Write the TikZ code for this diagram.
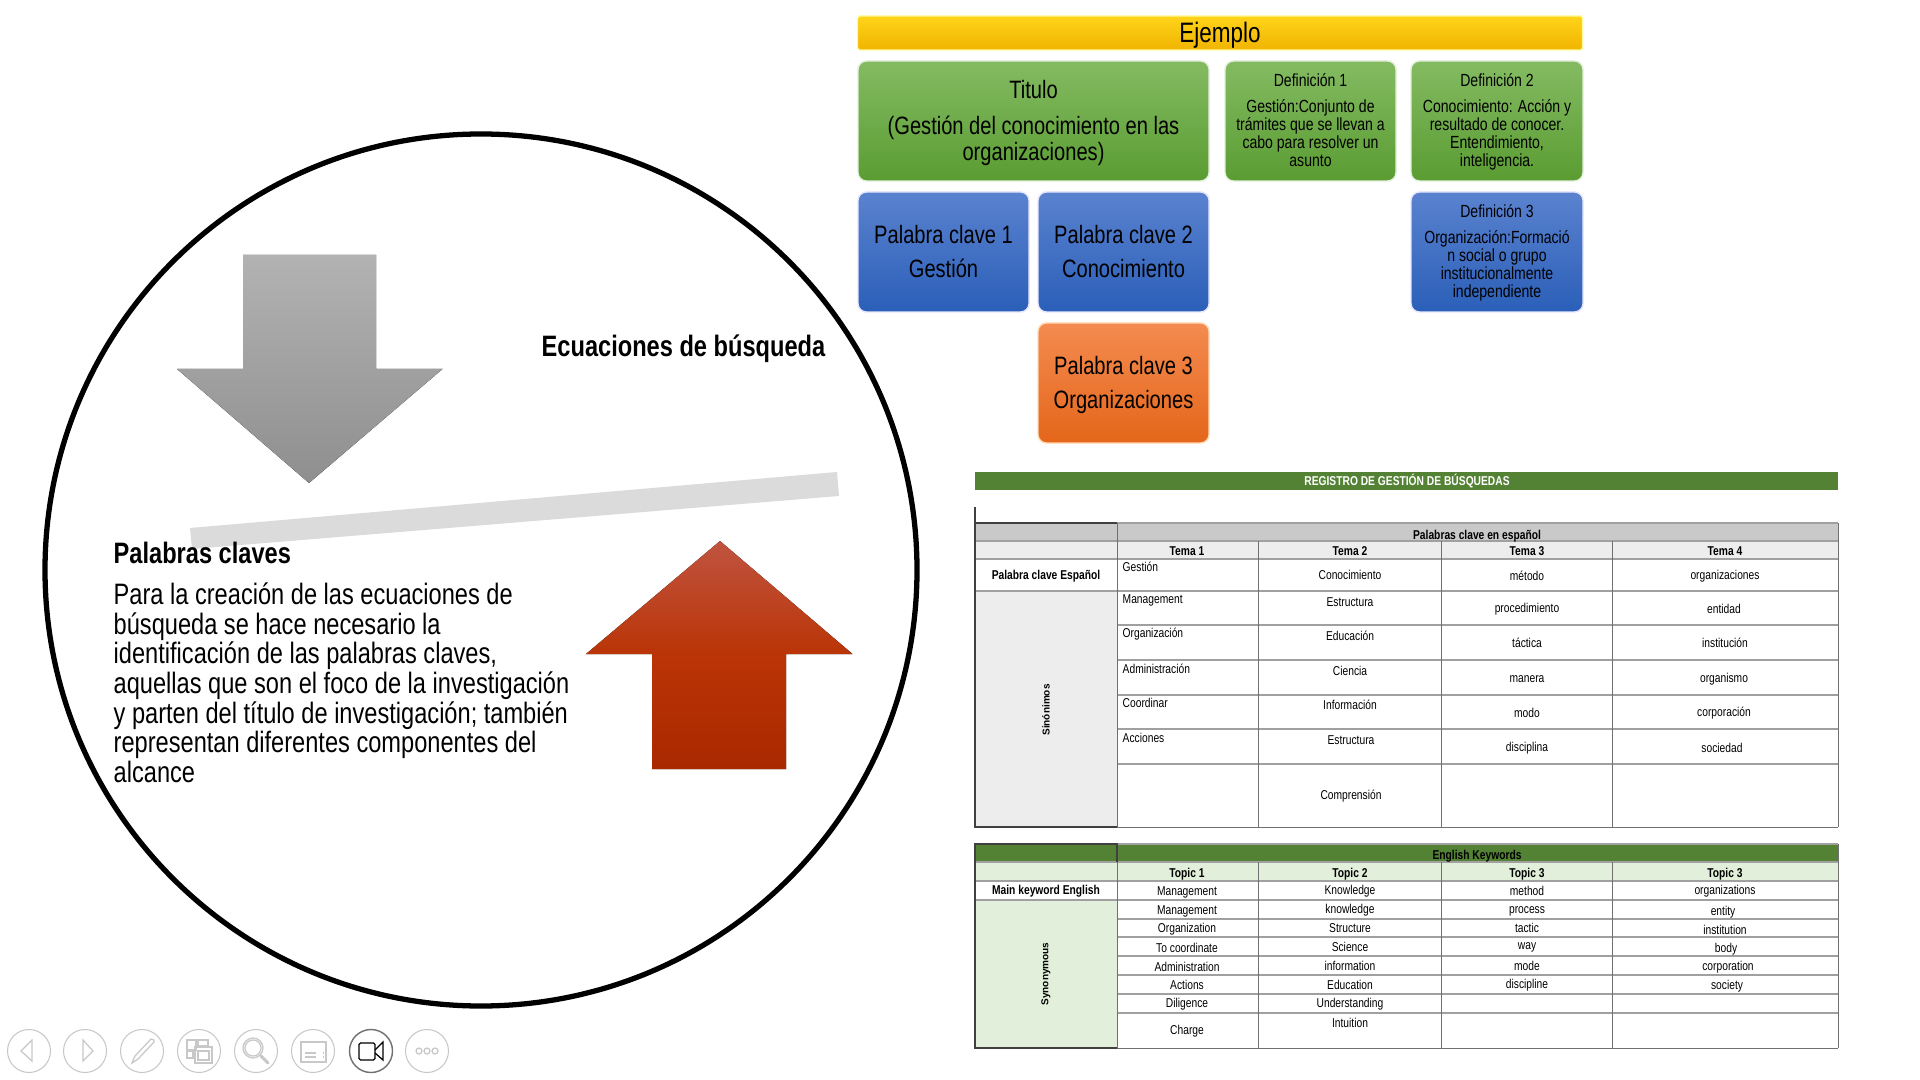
\documentclass[tikz,border=0pt]{standalone}
\usepackage{fontspec}
\setmainfont{Liberation Sans}[FakeStretch=0.80]
\newfontfamily\widebold{Liberation Sans}[BoldFont={Liberation Sans Bold}]
\definecolor{ringgray}{HTML}{C8C8C8}
\definecolor{linegray}{HTML}{A0A0A0}
\definecolor{edgegray}{HTML}{707070}
\definecolor{darkedge}{HTML}{404040}
\definecolor{headgray}{HTML}{C9C9C9}
\definecolor{softgray}{HTML}{EDEDED}
\definecolor{leafgreen}{HTML}{548235}
\definecolor{softgreen}{HTML}{E2EFDA}
\definecolor{gelgreentop}{HTML}{84BB62}
\definecolor{gelgreenbot}{HTML}{5A9C32}
\definecolor{gelbluetop}{HTML}{5A82CF}
\definecolor{gelbluebot}{HTML}{2B5FB8}
\definecolor{gelorangetop}{HTML}{F48B50}
\definecolor{gelorangebot}{HTML}{E4661A}
\definecolor{gelyellowtop}{HTML}{FFD41A}
\definecolor{gelyellowbot}{HTML}{F0B400}
\definecolor{rusttop}{HTML}{C05440}
\definecolor{rustmid}{HTML}{BA3406}
\definecolor{rustbot}{HTML}{AA2800}
\newcommand{\bigstrut}{\rule{0pt}{6.3pt}}
\newcommand{\defstrut}{\rule{0pt}{4.2pt}}
\tikzset{
    glossbox/.style={rounded corners=2.4pt,align=center,inner sep=0pt,text=black,line width=.4pt,font=\fontsize{7.15}{7.4}\selectfont},
    greenbox/.style={glossbox,draw=softgreen,top color=gelgreentop,bottom color=gelgreenbot},
    bluebox/.style={glossbox,draw=blue!10,top color=gelbluetop,bottom color=gelbluebot},
    orangebox/.style={glossbox,draw=orange!30,top color=gelorangetop,bottom color=gelorangebot},
    deftext/.style={font=\fontsize{5}{5.1}\selectfont},
    celltext/.style={inner sep=0pt,font=\fontsize{3.65}{4}\selectfont},
    cellleft/.style={celltext,anchor=west},
    cellbold/.style={celltext,font=\fontsize{3.65}{4}\selectfont\bfseries},
    rotbold/.style={celltext,font=\fontsize{2.85}{3}\widebold\bfseries,rotate=90},
    bodytext/.style={inner sep=0pt,align=left,font=\fontsize{8.4}{8.45}\selectfont},
    gridline/.style={draw=linegray,line width=.4pt},
    colline/.style={draw=edgegray,line width=.25pt},
    ring/.style={draw=ringgray,line width=.3pt},
    icon/.style={draw=ringgray,line width=.35pt}
}
\begin{document}
\begin{tikzpicture}[y=-1cm]
    \useasboundingbox[fill=white] (0,0) rectangle (19.2,10.8);
    \draw[line width=1.5pt] (4.81,5.70) circle (4.36);
    \fill[top color=black!30,bottom color=black!44] (2.43,2.55) -- (3.76,2.55) -- (3.76,3.69) -- (4.425,3.69) -- (3.09,4.83) -- (1.77,3.69) -- (2.43,3.69) -- cycle;
    \fill[top color=rusttop,bottom color=rustbot,middle color=rustmid] (7.20,5.41) -- (8.525,6.54) -- (7.86,6.54) -- (7.86,7.69) -- (6.52,7.69) -- (6.52,6.54) -- (5.86,6.54) -- cycle;
    \fill[black!14] (1.90,5.28) -- (8.37,4.72) -- (8.39,4.96) -- (1.92,5.49) -- cycle;
    \node[bodytext,anchor=west,font=\fontsize{8.4}{8.45}\selectfont\bfseries] (ecuaciones) at (5.41,3.49) {Ecuaciones de búsqueda};
    \node[bodytext,anchor=west,font=\fontsize{8.4}{8.45}\selectfont\bfseries] (palabras) at (1.13,5.53) {Palabras claves};
    \node[bodytext,anchor=north west] (cuerpo) at (1.13,5.82) {Para la creación de las ecuaciones de\\búsqueda se hace necesario la\\identificación de las palabras claves,\\aquellas que son el foco de la investigación\\y parten del título de investigación; también\\representan diferentes componentes del\\alcance};

    \node[glossbox,rounded corners=.5pt,draw=yellow!40,top color=gelyellowtop,bottom color=gelyellowbot,minimum width=7.25cm,minimum height=.34cm,font=\fontsize{8}{8}\selectfont] (ejemplo) at (12.20,.33) {\rule{0pt}{6.9pt}Ejemplo};
    \node[greenbox,minimum width=3.51cm,minimum height=1.2cm] (titulo) at (10.335,1.21) {\bigstrut Titulo\\[2.6pt](Gestión del conocimiento en las\\organizaciones)};
    \node[greenbox,deftext,minimum width=1.71cm,minimum height=1.2cm] (def1) at (13.105,1.21) {\defstrut Definición 1\\[2.3pt]Gestión:Conjunto de\\trámites que se llevan a\\cabo para resolver un\\asunto\vphantom{g}};
    \node[greenbox,deftext,minimum width=1.72cm,minimum height=1.2cm] (def2) at (14.97,1.21) {\defstrut Definición 2\\[2.3pt]Conocimiento: Acción y\\resultado de conocer.\\Entendimiento,\\inteligencia.};
    \node[bluebox,minimum width=1.71cm,minimum height=1.2cm] (clave1) at (9.435,2.52) {\bigstrut Palabra clave 1\\[2.5pt]Gestión\vphantom{g}};
    \node[bluebox,minimum width=1.71cm,minimum height=1.2cm] (clave2) at (11.235,2.52) {\bigstrut Palabra clave 2\\[2.5pt]Conocimiento\vphantom{g}};
    \node[bluebox,deftext,minimum width=1.72cm,minimum height=1.2cm] (def3) at (14.97,2.52) {\defstrut Definición 3\\[2.3pt]Organización:Formació\\n social o grupo\\institucionalmente\\independiente\vphantom{g}};
    \node[orangebox,minimum width=1.71cm,minimum height=1.2cm] (clave3) at (11.235,3.83) {\bigstrut Palabra clave 3\\[2.5pt]Organizaciones};

    \fill[leafgreen] (9.75,4.72) rectangle (18.38,4.90);
    \node[cellbold,text=white] (registro) at (14.07,4.81) {REGISTRO DE GESTIÓN DE BÚSQUEDAS};
    \draw[darkedge,line width=.3pt] (9.75,5.07) -- (9.75,5.23);

    \fill[headgray] (9.75,5.23) rectangle (18.38,5.41);
    \fill[softgray] (9.75,5.41) rectangle (18.38,5.59);
    \fill[softgray] (9.75,5.91) rectangle (11.17,8.27);
    \draw[gridline] (9.75,5.23) -- (18.38,5.23) (9.75,5.41) -- (18.38,5.41) (9.75,5.59) -- (18.38,5.59) (9.75,5.91) -- (18.38,5.91) (11.17,6.25) -- (18.38,6.25) (11.17,6.60) -- (18.38,6.60) (11.17,6.95) -- (18.38,6.95) (11.17,7.29) -- (18.38,7.29) (11.17,7.64) -- (18.38,7.64);
    \draw[colline] (11.17,5.23) -- (11.17,8.27) (12.58,5.41) -- (12.58,8.27) (14.41,5.41) -- (14.41,8.27) (16.12,5.41) -- (16.12,8.27) (18.38,5.23) -- (18.38,8.27) (11.17,8.27) -- (18.38,8.27);
    \draw[darkedge,line width=.45pt] (11.17,5.23) -- (9.75,5.23) -- (9.75,8.27) -- (11.17,8.27);

    \node[cellbold] (esptitulo) at (14.77,5.36) {Palabras clave en español};
    \node[cellbold] (tema1) at (11.87,5.51) {Tema 1};
    \node[cellbold] (tema2) at (13.50,5.51) {Tema 2};
    \node[cellbold] (tema3) at (15.27,5.51) {Tema 3};
    \node[cellbold] (tema4) at (17.25,5.51) {Tema 4};
    \node[cellbold] (clavees) at (10.46,5.76) {Palabra clave Español};
    \node[rotbold] (sinonimos) at (10.46,7.10) {Sinónimos};
    \node[cellleft] (es11) at (11.22,5.67) {Gestión};
    \node[cellleft] (es12) at (11.22,6.00) {Management};
    \node[cellleft] (es13) at (11.22,6.34) {Organización};
    \node[cellleft] (es14) at (11.22,6.69) {Administración};
    \node[cellleft] (es15) at (11.22,7.03) {Coordinar};
    \node[cellleft] (es16) at (11.22,7.38) {Acciones};
    \node[celltext] (es21) at (13.50,5.75) {Conocimiento};
    \node[celltext] (es22) at (13.50,6.02) {Estructura};
    \node[celltext] (es23) at (13.50,6.36) {Educación};
    \node[celltext] (es24) at (13.50,6.71) {Ciencia};
    \node[celltext] (es25) at (13.50,7.05) {Información};
    \node[celltext] (es26) at (13.51,7.40) {Estructura};
    \node[celltext] (es27) at (13.51,7.96) {Comprensión};
    \node[celltext] (es31) at (15.27,5.76) {método};
    \node[celltext] (es32) at (15.27,6.09) {procedimiento};
    \node[celltext] (es33) at (15.27,6.43) {táctica};
    \node[celltext] (es34) at (15.27,6.79) {manera};
    \node[celltext] (es35) at (15.27,7.13) {modo};
    \node[celltext] (es36) at (15.27,7.48) {disciplina};
    \node[celltext] (es41) at (17.25,5.76) {organizaciones};
    \node[celltext] (es42) at (17.24,6.09) {entidad};
    \node[celltext] (es43) at (17.25,6.43) {institución};
    \node[celltext] (es44) at (17.24,6.79) {organismo};
    \node[celltext] (es45) at (17.24,7.13) {corporación};
    \node[celltext] (es46) at (17.22,7.48) {sociedad};

    \fill[leafgreen] (9.75,8.44) rectangle (18.38,8.62);
    \fill[softgreen] (9.75,8.62) rectangle (18.38,8.81);
    \fill[softgreen] (9.75,9.00) rectangle (11.17,10.48);
    \draw[gridline] (9.75,8.44) -- (18.38,8.44) (9.75,8.62) -- (18.38,8.62) (9.75,8.81) -- (18.38,8.81) (9.75,9.00) -- (18.38,9.00) (11.17,9.19) -- (18.38,9.19) (11.17,9.37) -- (18.38,9.37) (11.17,9.56) -- (18.38,9.56) (11.17,9.75) -- (18.38,9.75) (11.17,9.94) -- (18.38,9.94) (11.17,10.13) -- (18.38,10.13);
    \draw[colline] (11.17,8.44) -- (11.17,10.48) (12.58,8.62) -- (12.58,10.48) (14.41,8.62) -- (14.41,10.48) (16.12,8.62) -- (16.12,10.48) (18.38,8.44) -- (18.38,10.48) (11.17,10.48) -- (18.38,10.48);
    \draw[darkedge,line width=.45pt] (11.17,8.62) -- (11.17,8.44) -- (9.75,8.44) -- (9.75,10.48) -- (11.17,10.48);

    \node[cellbold] (engtitulo) at (14.77,8.56) {English Keywords};
    \node[cellbold] (topic1) at (11.87,8.74) {Topic 1};
    \node[cellbold] (topic2) at (13.50,8.74) {Topic 2};
    \node[cellbold] (topic3) at (15.27,8.74) {Topic 3};
    \node[cellbold] (topic4) at (17.25,8.74) {Topic 3};
    \node[cellbold] (claveen) at (10.46,8.91) {Main keyword English};
    \node[rotbold] (synonymous) at (10.46,9.74) {Synonymous};
    \node[celltext] (en11) at (11.87,8.92) {Management};
    \node[celltext] (en12) at (11.87,9.11) {Management};
    \node[celltext] (en13) at (11.87,9.29) {Organization};
    \node[celltext] (en14) at (11.87,9.48) {To coordinate};
    \node[celltext] (en15) at (11.87,9.67) {Administration};
    \node[celltext] (en16) at (11.87,9.85) {Actions};
    \node[celltext] (en17) at (11.87,10.04) {Diligence};
    \node[celltext] (en18) at (11.87,10.31) {Charge};
    \node[celltext] (en21) at (13.50,8.91) {Knowledge};
    \node[celltext] (en22) at (13.50,9.10) {knowledge};
    \node[celltext] (en23) at (13.50,9.28) {Structure};
    \node[celltext] (en24) at (13.50,9.47) {Science};
    \node[celltext] (en25) at (13.50,9.66) {information};
    \node[celltext] (en26) at (13.50,9.85) {Education};
    \node[celltext] (en27) at (13.50,10.04) {Understanding};
    \node[celltext] (en28) at (13.50,10.23) {Intuition};
    \node[celltext] (en31) at (15.27,8.91) {method};
    \node[celltext] (en32) at (15.27,9.11) {process};
    \node[celltext] (en33) at (15.27,9.28) {tactic};
    \node[celltext] (en34) at (15.27,9.47) {way};
    \node[celltext] (en35) at (15.27,9.66) {mode};
    \node[celltext] (en36) at (15.27,9.85) {discipline};
    \node[celltext] (en41) at (17.25,8.91) {organizations};
    \node[celltext] (en42) at (17.23,9.12) {entity};
    \node[celltext] (en43) at (17.25,9.30) {institution};
    \node[celltext] (en44) at (17.26,9.49) {body};
    \node[celltext] (en45) at (17.28,9.67) {corporation};
    \node[celltext] (en46) at (17.27,9.86) {society};

    \draw[ring] (.29,10.51) circle (.215);
    \draw[ring] (.85,10.51) circle (.215);
    \draw[ring] (1.42,10.51) circle (.215);
    \draw[ring] (1.99,10.51) circle (.215);
    \draw[ring] (2.56,10.51) circle (.215);
    \draw[ring] (3.13,10.51) circle (.215);
    \draw[edgegray,line width=.4pt] (3.71,10.51) circle (.215);
    \draw[ring] (4.27,10.51) circle (.215);
    \draw[icon] (.21,10.51) -- (.32,10.40) -- (.32,10.61) -- cycle;
    \draw[icon] (.83,10.40) -- (.83,10.61) -- (.93,10.51) -- cycle;
    \draw[icon] (1.32,10.63) -- (1.35,10.56) -- (1.51,10.39) -- (1.54,10.40) -- (1.54,10.42) -- (1.38,10.59) -- cycle;
    \draw[icon] (1.87,10.40) rectangle (1.96,10.50) (1.98,10.40) rectangle (2.08,10.46) (1.87,10.51) rectangle (1.93,10.58) (1.95,10.47) rectangle (2.12,10.63) (1.98,10.51) rectangle (2.09,10.60);
    \draw[icon] (2.53,10.48) circle (.10) (2.53,10.48) circle (.08);
    \draw[icon,line width=.9pt,line cap=round] (2.61,10.56) -- (2.68,10.63);
    \draw[icon] (3.01,10.42) rectangle (3.26,10.62);
    \draw[icon,densely dashed] (3.05,10.53) -- (3.23,10.53) (3.05,10.57) -- (3.23,10.57);
    \draw[black,line width=.35pt,rounded corners=.4pt] (3.59,10.43) rectangle (3.75,10.60);
    \draw[black,line width=.35pt] (3.75,10.50) -- (3.83,10.42) -- (3.83,10.60) -- (3.75,10.53);
    \draw[icon] (4.19,10.51) circle (.03) (4.27,10.51) circle (.03) (4.35,10.51) circle (.03);
\end{tikzpicture}
\end{document}
